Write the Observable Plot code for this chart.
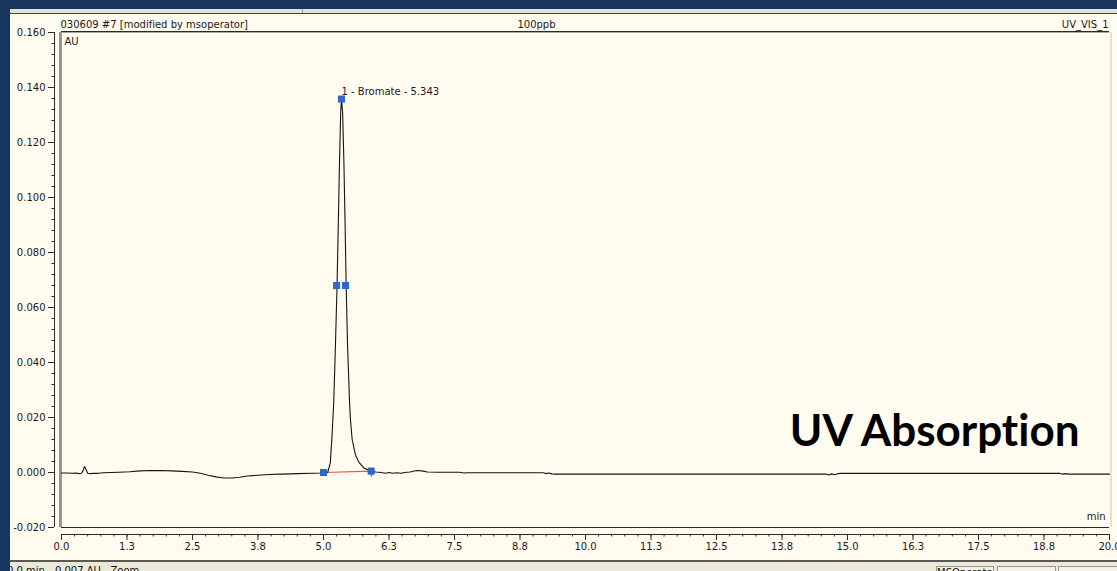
<!DOCTYPE html>
<html>
<head>
<meta charset="utf-8">
<script src="https://cdn.jsdelivr.net/npm/d3@7"></script>
<script src="https://cdn.jsdelivr.net/npm/@observablehq/plot@0.6"></script>
<style>
html,body{margin:0;padding:0;width:1117px;height:571px;overflow:hidden;background:#17375e;}
#panel{position:absolute;left:10px;top:9px;width:1107px;height:562px;background:#fffbef;}
#topband{position:absolute;left:10px;top:9px;width:1107px;height:4px;background:#e4e2d4;border-bottom:1.5px solid #444;}
#sep{position:absolute;left:302px;top:9px;width:1px;height:4px;background:#9a9a90;}
#status{position:absolute;left:10px;top:560px;width:1107px;height:11px;background:#ece9d8;border-top:2px solid #5a5a55;overflow:hidden;}
#statustext{position:absolute;left:-3px;top:3px;font:10px 'DejaVu Sans';color:#111;white-space:pre;}
.sbox{position:absolute;top:4px;height:12px;border:1px solid #9a978a;background:#f4f2e8;font:10px 'DejaVu Sans';color:#111;overflow:hidden;white-space:nowrap;}
#chart{position:absolute;left:0;top:0;}
svg text{font-variant-ligatures:none;font-feature-settings:"liga" 0;}
</style>
</head>
<body>
<div id="panel"></div>
<div id="topband"></div>
<div id="sep"></div>
<div id="status">
  <div id="statustext">0.0 min  -0.007 AU   Zoom</div>
  <div class="sbox" style="left:926px;width:56px;">MSOperator</div>
  <div class="sbox" style="left:987px;width:57px;"></div>
  <div class="sbox" style="left:1048px;width:60px;"></div>
</div>
<div id="chart"></div>
<script>
// ---- data ----
const times = [
  0.00, 0.10, 0.20, 0.28, 0.33, 0.38, 0.41, 0.44, 0.47, 0.50,
  0.55, 0.62, 0.70, 0.80, 0.95, 1.10, 1.30, 1.50, 1.70, 1.90,
  2.10, 2.30, 2.50, 2.65, 2.80, 2.95, 3.10, 3.25, 3.40, 3.55,
  3.75, 3.95, 4.20, 4.50, 4.80, 5.00, 5.08, 5.13, 5.166, 5.197,
  5.229, 5.258, 5.281, 5.305, 5.328, 5.343, 5.365, 5.390, 5.413, 5.433,
  5.458, 5.496, 5.515, 5.547, 5.610, 5.674, 5.770, 5.900, 6.00, 6.10,
  6.18, 6.25, 6.32, 6.40, 6.48, 6.55, 6.65, 6.78, 6.88, 6.98,
  7.20, 7.60, 7.68, 7.74, 9.20, 9.24, 9.30, 9.36, 9.42, 14.60,
  14.64, 14.70, 14.76, 14.82, 14.88, 19.05, 19.10, 19.16, 19.22, 20.00
];
const absorbance = [
  -0.0002, -0.0002, -0.0003, -0.0002, -0.0004, -0.0003, 0.0006, 0.0022, 0.0010, -0.0003,
  -0.0004, -0.0003, -0.0003, -0.0001, 0.0000, 0.0001, 0.0003, 0.0006, 0.0007, 0.0007,
  0.0006, 0.0004, 0.0002, -0.0003, -0.0010, -0.0016, -0.0020, -0.0020, -0.0017, -0.0013,
  -0.0010, -0.0007, -0.0006, -0.0004, -0.0003, -0.0002, 0.0000, 0.0035, 0.0144, 0.0264,
  0.0470, 0.0675, 0.0890, 0.1125, 0.1310, 0.1355, 0.1310, 0.1125, 0.0890, 0.0675,
  0.0470, 0.0260, 0.0190, 0.0120, 0.0064, 0.0038, 0.0016, 0.0005, 0.0002, 0.0000,
  -0.0003, 0.0000, -0.0003, -0.0001, -0.0003, 0.0000, 0.0002, 0.0007, 0.0006, 0.0002,
  0.0001, 0.0001, -0.0002, -0.0001, -0.0001, -0.0004, -0.0002, -0.0005, -0.0006, -0.0006,
  -0.0009, -0.0005, -0.0008, -0.0004, -0.0003, -0.0003, -0.0006, -0.0004, -0.0006, -0.0006
];
// peak integration markers (start, half-height left, apex, half-height right, end)
const markerTimes = [5.00, 5.25, 5.343, 5.42, 5.91];
const markerValues = [0.0000, 0.0680, 0.1358, 0.0680, 0.0005];
// integration baseline
const baselineTimes = [5.00, 5.91];
const baselineValues = [0.0000, 0.0005];
const peakLabel = "1 - Bromate - 5.343";

const headerLeft = "030609 #7 [modified by msoperator]";
const headerCenter = "100ppb";
const headerRight = "UV_VIS_1";
const yUnit = "AU";
const xUnit = "min";
const overlayTitle = "UV Absorption";

const xTicks = [0, 1.25, 2.5, 3.75, 5, 6.25, 7.5, 8.75, 10, 11.25, 12.5, 13.75, 15, 16.25, 17.5, 18.75, 20];
const xTickLabels = ["0.0", "1.3", "2.5", "3.8", "5.0", "6.3", "7.5", "8.8", "10.0", "11.3", "12.5", "13.8", "15.0", "16.3", "17.5", "18.8", "20.0"];
const yTicks = [-0.02, 0, 0.02, 0.04, 0.06, 0.08, 0.10, 0.12, 0.14, 0.16];
const yTickLabels = ["-0.020", "0.000", "0.020", "0.040", "0.060", "0.080", "0.100", "0.120", "0.140", "0.160"];

// ---- tables built from the arrays ----
const trace = times.map((t, i) => ({t, v: absorbance[i]}));
const markers = markerTimes.map((t, i) => ({t, v: markerValues[i]}));
const baseline = baselineTimes.map((t, i) => ({t, v: baselineValues[i]}));
const apex = [{t: markerTimes[2], v: markerValues[2], label: peakLabel}];
const endMark = [{t: markerTimes[4], v: markerValues[4]}];
const xMinor = d3.range(0, 20.001, 0.25);
const yMinor = d3.range(-0.02, 0.1601, 0.004);

const dark = "#2a2a2a";

const chart = Plot.plot({
  width: 1117,
  height: 571,
  marginLeft: 61,
  marginRight: 8,
  marginTop: 32,
  marginBottom: 44,
  x: {domain: [0, 20], label: null},
  y: {domain: [-0.02, 0.16], label: null},
  style: {fontFamily: "'DejaVu Sans'", fontSize: "10px", background: "transparent", color: "#1a1a1a", overflow: "visible"},
  marks: [
    // plot frame
    Plot.ruleY([0.16], {stroke: dark, dy: -1}),
    Plot.ruleY([0.16], {stroke: "#a9a79c"}),
    Plot.ruleX([0], {stroke: dark, dx: -1.5}),
    Plot.ruleX([0], {stroke: "#a09e94"}),
    Plot.ruleX([20], {stroke: "#c9c7bc", dx: 1.5}),
    Plot.ruleY([-0.02], {stroke: dark}),
    // y axis (offset to the left of the frame)
    Plot.ruleX([0], {stroke: dark, dx: -7}),
    Plot.axisY(yTicks, {tickSize: 6, dx: -7, tickPadding: 3, stroke: dark, fill: "#1a1a1a", label: null,
      tickFormat: d => yTickLabels[yTicks.indexOf(d)]}),
    Plot.axisY(yMinor, {tickSize: 2.5, dx: -7, stroke: dark, fill: "none", label: null}),
    // x axis (offset below the frame)
    Plot.ruleY([-0.02], {stroke: dark, dy: 7}),
    Plot.axisX(xTicks, {tickSize: 6, dy: 7, tickPadding: 2, stroke: dark, fill: "#1a1a1a", label: null,
      tickFormat: d => xTickLabels[xTicks.indexOf(d)]}),
    Plot.axisX(xMinor, {tickSize: 2.5, dy: 7, stroke: dark, fill: "none", label: null}),
    // integration baseline
    Plot.line(baseline, {x: "t", y: "v", stroke: "#ff4a4a", strokeWidth: 1.2}),
    // chromatogram trace
    Plot.line(trace, {x: "t", y: "v", stroke: "#151515", strokeWidth: 1.1}),
    // end tick below end marker
    Plot.ruleX(endMark, {x: "t", y1: "v", y2: "v", insetBottom: -6, stroke: "#2f68c8", strokeWidth: 1.2}),
    // peak markers
    Plot.dot(markers, {x: "t", y: "v", symbol: "square", r: 4, fill: "#2f68c8", stroke: "none"}),
    // peak annotation
    Plot.text(apex, {x: "t", y: "v", text: "label", textAnchor: "start", dx: 0, dy: -7, fill: "#1a1a1a"}),
    // header texts
    Plot.text([headerLeft], {frameAnchor: "top-left", textAnchor: "start", dx: -1, dy: -12, fill: "#1a1a1a"}),
    Plot.text([headerCenter], {frameAnchor: "top", dx: -49, dy: -12, fill: "#1a1a1a"}),
    Plot.text([headerRight], {frameAnchor: "top-right", textAnchor: "end", dx: -1, dy: -12, fill: "#1a1a1a"}),
    Plot.text([yUnit], {frameAnchor: "top-left", textAnchor: "start", dx: 3, dy: 5, fill: "#1a1a1a"}),
    Plot.text([xUnit], {frameAnchor: "bottom-right", textAnchor: "end", dx: -4, dy: -8, fill: "#1a1a1a"}),
    // overlay title
    Plot.text([overlayTitle], {frameAnchor: "bottom-right", textAnchor: "end", dx: -30, dy: -82,
      fontFamily: "Lato", fontWeight: "bold", fontSize: 44, fill: "#000"})
  ]
});
document.getElementById("chart").appendChild(chart);
</script>
</body>
</html>
